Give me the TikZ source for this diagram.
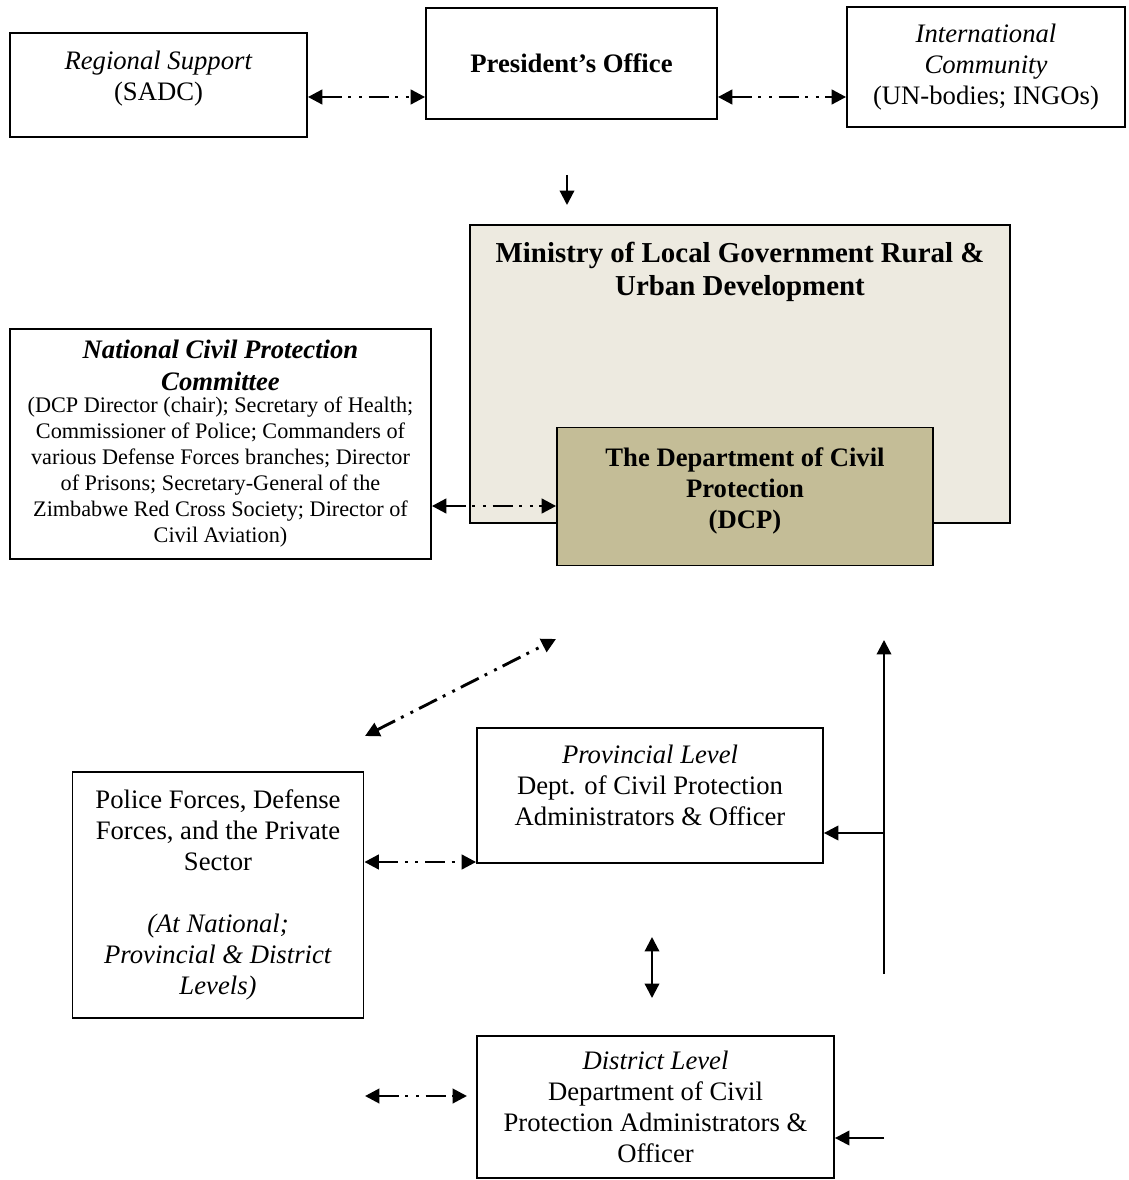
\documentclass[tikz,border=0pt]{standalone}
\usepackage{fontspec}
\setmainfont{Liberation Serif}
\usetikzlibrary{arrows.meta}
\definecolor{mlgfill}{HTML}{EDEAE0}
\definecolor{dcpfill}{HTML}{C4BD97}
\tikzset{
  box/.style={draw, line width=0.8pt, inner sep=0pt, align=center, font=\fontsize{12}{14}\selectfont},
  size/.style 2 args={minimum width=#1*0.45pt, minimum height=#2*0.45pt},
  txt/.style={inner sep=0pt, align=center, font=\fontsize{12}{14}\selectfont},
  bigtitle/.style={inner sep=0pt, align=center, font=\fontsize{13}{15}\selectfont\bfseries},
  head/.tip={Triangle[length=6.5pt,width=6.5pt]},
  link/.style={line width=1pt, arrows={-head}},
  twolink/.style={line width=1pt, arrows={head-head}},
  dotdash/.style={line width=1.3pt, arrows={head-head},
    dash pattern=on 9pt off 3pt on 1.3pt off 3.5pt on 1.3pt off 3pt},
}

\begin{document}
\begin{tikzpicture}[x=0.45pt, y=-0.45pt]
  \useasboundingbox (0,0) rectangle (1128,1180);

  % top row
  \node[box, size={297}{104}] (rs) at (158.5,85) {};
  \node[txt] (rstext) at (158.5,79) {\textit{Regional Support}\\ (SADC)};
  \node[box, size={291}{111}] (po) at (571.5,63.5) {\textbf{President's Office}};
  \node[box, size={278}{120}] (ic) at (986,67)
    {\textit{International}\\ \textit{Community}\\ (UN-bodies; INGOs)};

  % ministry and DCP
  \node[box, fill=mlgfill, size={540}{298}] (mlg) at (740,374) {};
  \node[bigtitle] (mlgtitle) at (740,272)
    {Ministry of Local Government Rural \&\\ Urban Development};
  \node[box, fill=dcpfill, size={376}{138}] (dcp) at (745,496.5) {};
  \node[txt, font=\fontsize{12}{13.8}\selectfont\bfseries] (dcptext) at (745,491)
    {The Department of Civil\\ Protection\\ (DCP)};

  \node[box, size={421}{230}, text width=186pt, align=flush center] (ncpc) at (220.5,444)
    {{\bfseries\itshape National Civil Protection\\ Committee\par}
     \vspace{-1.5pt}
     {\fontsize{10}{11.7}\selectfont (DCP Director (chair); Secretary of Health;\\
     Commissioner of Police; Commanders of\\
     various Defense Forces branches; Director\\
     of Prisons; Secretary-General of the\\
     Zimbabwe Red Cross Society; Director of\\
     Civil Aviation)\par}};

  % lower levels
  \node[box, size={291}{246}] (pol) at (218,895)
    {Police Forces, Defense\\ Forces, and the Private\\ Sector\\[14pt]
     \textit{(At National;}\\ \textit{Provincial \& District}\\ \textit{Levels)}};
  \node[box, size={346}{135}] (prov) at (650,795.5) {};
  \node[txt] (provtext) at (650,785)
    {\textit{Provincial Level}\\ Dept. of Civil Protection\\ Administrators \& Officer};
  \node[box, size={357}{142}] (dist) at (655.5,1107)
    {\textit{District Level}\\ Department of Civil\\ Protection Administrators \&\\ Officer};

  % free ends
  \coordinate (pdtop) at (567,175);
  \coordinate (pdbot) at (567,205);
  \coordinate (diaglo) at (365,736);
  \coordinate (diaghi) at (556,639);
  \coordinate (vtop) at (652,937);
  \coordinate (vbot) at (652,998);
  \coordinate (rtop) at (884,640);
  \coordinate (rbot) at (884,974);
  \coordinate (dright) at (884,1138);
  \coordinate (dlefta) at (365,1096);
  \coordinate (dleftb) at (467,1096);

  % connectors
  \draw[dotdash] (rs.east |- 0,97) -- (po.west |- 0,97);
  \draw[dotdash] (po.east |- 0,97) -- (ic.west |- 0,97);
  \draw[link] (pdtop) -- (pdbot);
  \draw[dotdash] (ncpc.east |- 0,506) -- (dcp.west |- 0,506);
  \draw[dotdash] (diaglo) -- (diaghi);
  \draw[dotdash] (pol.east |- 0,862) -- (prov.west |- 0,862);
  \draw[link] (rbot) -- (rtop);
  \draw[link] (rbot |- 0,833) -- (prov.east |- 0,833);
  \draw[twolink] (vtop) -- (vbot);
  \draw[dotdash] (dlefta) -- (dleftb);
  \draw[link] (dright) -- (dist.east |- dright);
\end{tikzpicture}
\end{document}
